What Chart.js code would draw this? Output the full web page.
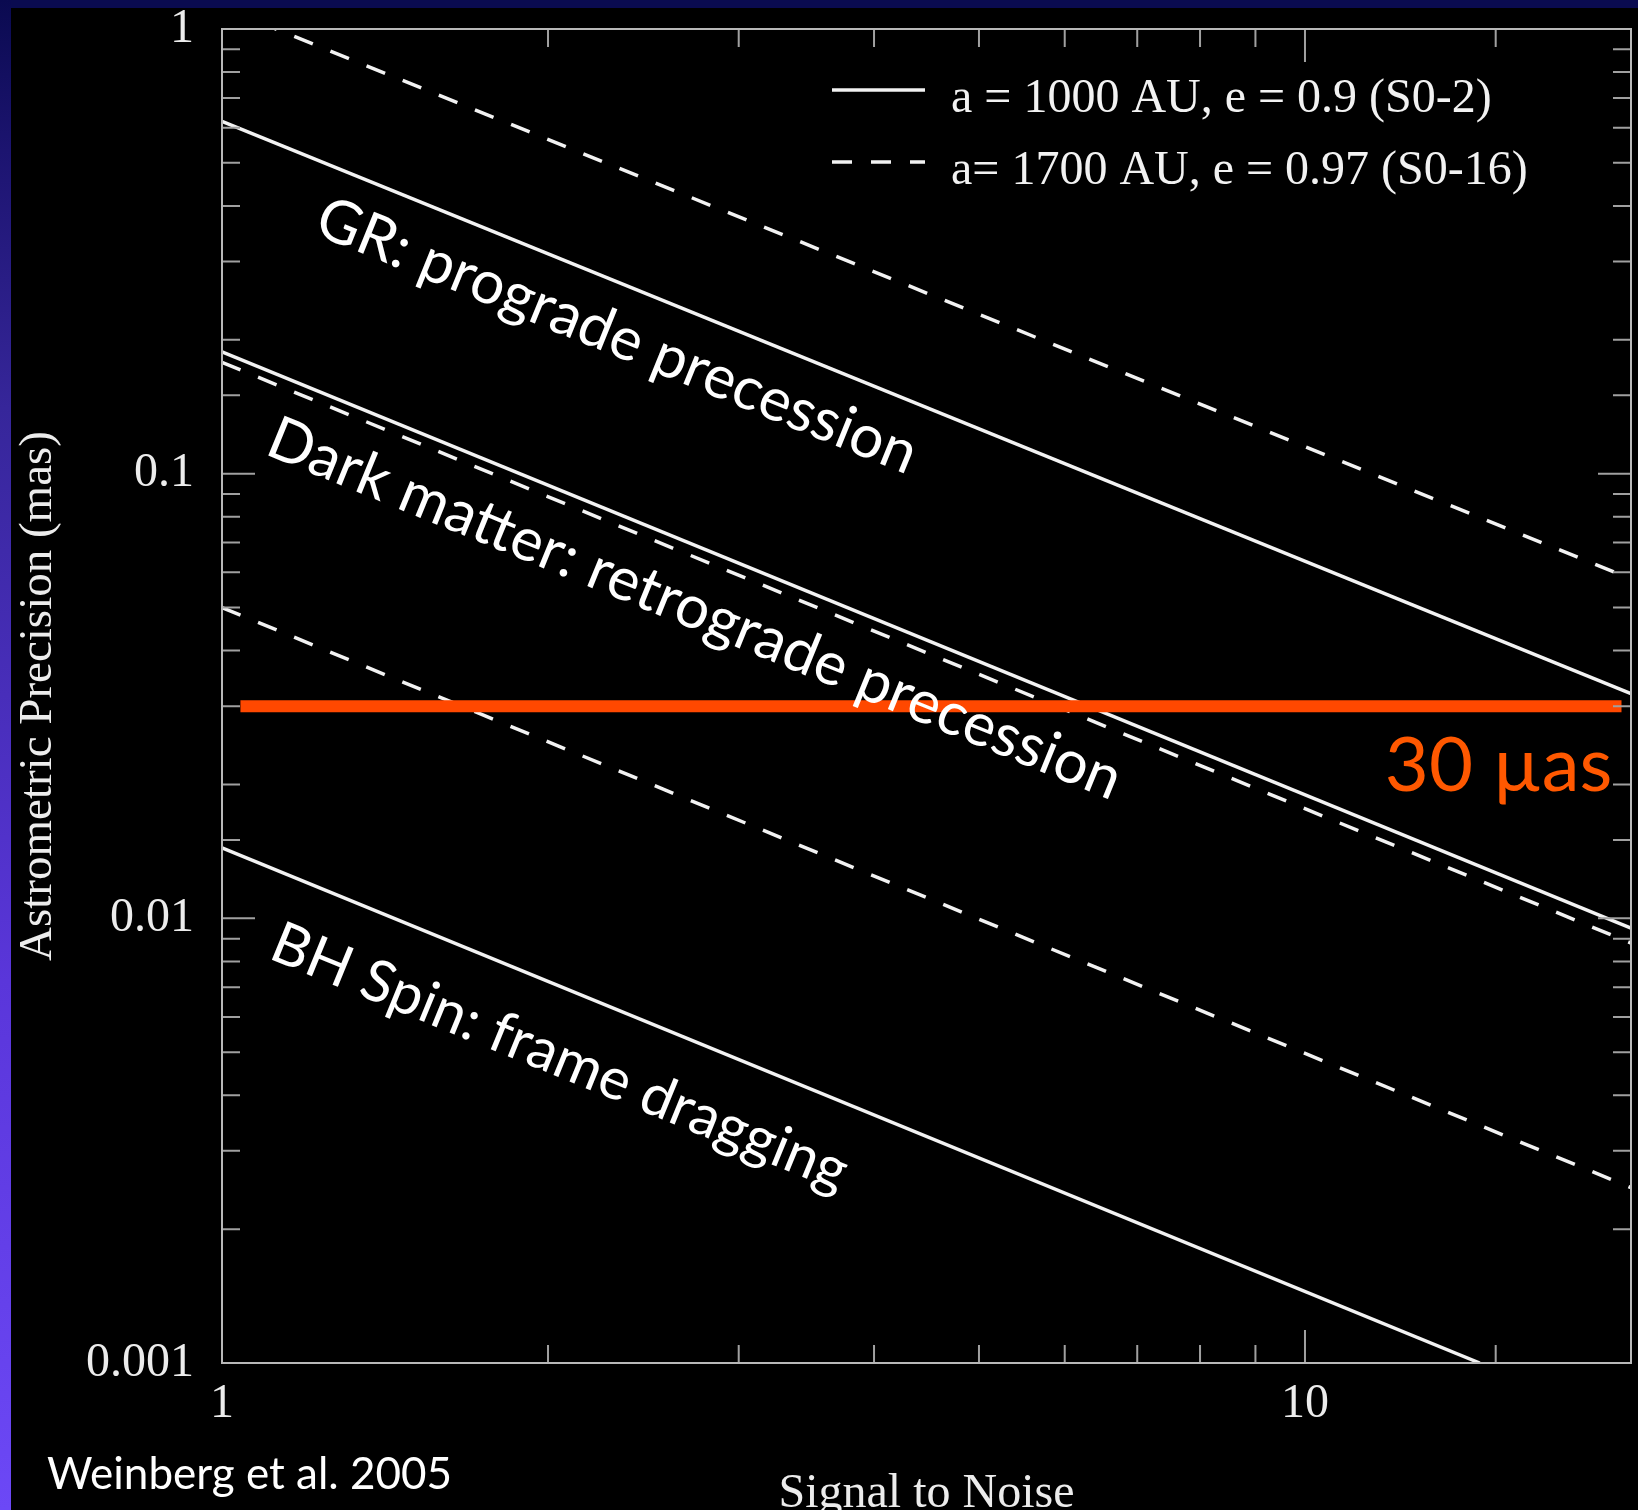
<!DOCTYPE html>
<html>
<head>
<meta charset="utf-8">
<title>Astrometric Precision vs Signal to Noise</title>
<script src="https://cdn.jsdelivr.net/npm/chart.js@4.4.0/dist/chart.umd.min.js"></script>
<style>
  html, body { margin: 0; padding: 0; background: #000; }
  #wrap { position: relative; width: 1638px; height: 1510px; background: #000; overflow: hidden; }
  #topBar { position: absolute; left: 0; top: 0; width: 1638px; height: 8px; background: #0a0b50; }
  #sideBar { position: absolute; left: 0; top: 0; width: 11px; height: 1510px;
    background: linear-gradient(to bottom, #0a0a50 0%, #1c1470 10%, #36269a 27%, #5a36da 65%, #6c48f6 100%); }
  #chart { position: absolute; left: 0; top: 0; }
</style>
</head>
<body>
<div id="wrap">
  <div id="topBar"></div>
  <div id="sideBar"></div>
  <canvas id="chart" width="1638" height="1510"></canvas>
</div>
<script>
// Values (Weinberg et al. 2005)
const snrEnds = [1, 20];
const grS02 = [0.62, 0.032];      // GR prograde, S0-2 (solid)
const grS016 = [1.12, 0.058];     // GR prograde, S0-16 (dashed)
const dmS02 = [0.188, 0.0095];    // dark matter, S0-2
const dmS016 = [0.178, 0.0088];   // dark matter, S0-16
const bhS016 = [0.050, 0.00248];  // frame dragging, S0-16
const bhS02Snr = [1, 14.5];
const bhS02 = [0.0144, 0.001];    // frame dragging, S0-2
const limitSnr = [1.04, 19.6];
const limitMas = [0.03, 0.03];    // 30 micro-arcsec

const xTickValues = [1, 10];
const xTickLabels = ['1', '10'];
const yTickValues = [0.001, 0.01, 0.1, 1];
const yTickLabels = ['0.001', '0.01', '0.1', '1'];

const legendLabels = ['a = 1000 AU, e = 0.9 (S0-2)', 'a= 1700 AU, e = 0.97 (S0-16)'];
const curveLabels = ['GR: prograde precession', 'Dark matter: retrograde precession', 'BH Spin: frame dragging'];
const limitLabel = '30 µas';
const sourceLabel = 'Weinberg et al. 2005';

const white = '#f2f2f2';
const orange = '#ff4800';
const dashes = [20, 19];
const serif = "'Liberation Serif', 'Times New Roman', serif";
const sans = "Lato, 'Open Sans', sans-serif";

function toPoints(xs, ys) {
    return xs.map((x, i) => ({ x: x, y: ys[i] }));
}

function labelFor(value, values, labels) {
    const i = values.findIndex(v => Math.abs(v - value) / v < 1e-6);
    return i >= 0 ? labels[i] : '';
}

function isDecade(v) {
    const l = Math.log10(v);
    return Math.abs(l - Math.round(l)) < 1e-6;
}

function curve(label, xs, ys, dashed) {
    return {
        label: label,
        data: toPoints(xs, ys),
        showLine: true,
        borderColor: white,
        borderWidth: 3.5,
        borderDash: dashed ? dashes : [],
        pointRadius: 0,
        tension: 0,
        order: 1
    };
}

// the axes must not push the plot area around: it is fixed by layout padding
function noPadding(s) {
    s.paddingTop = 0;
    s.paddingBottom = 0;
    s.paddingLeft = 0;
    s.paddingRight = 0;
}

// frame with inward ticks on all four sides
const framePlugin = {
    id: 'frame',
    afterDatasetsDraw(chart) {
        const { ctx, chartArea: a, scales } = chart;
        ctx.save();
        ctx.strokeStyle = '#a0a0a0';
        ctx.lineWidth = 2;
        ctx.beginPath();
        scales.x.ticks.forEach(t => {
            const px = scales.x.getPixelForValue(t.value);
            const len = isDecade(t.value) ? 33 : 18;
            ctx.moveTo(px, a.bottom); ctx.lineTo(px, a.bottom - len);
            ctx.moveTo(px, a.top); ctx.lineTo(px, a.top + len);
        });
        scales.y.ticks.forEach(t => {
            const py = scales.y.getPixelForValue(t.value);
            const len = isDecade(t.value) ? 33 : 18;
            ctx.moveTo(a.left, py); ctx.lineTo(a.left + len, py);
            ctx.moveTo(a.right, py); ctx.lineTo(a.right - len, py);
        });
        ctx.stroke();
        ctx.strokeStyle = '#b8b8b8';
        ctx.strokeRect(a.left, a.top, a.right - a.left, a.bottom - a.top);
        ctx.restore();
    }
};

// legend, curve labels, 30 µas note and source
const notesPlugin = {
    id: 'notes',
    afterDatasetsDraw(chart, args, opts) {
        const { ctx, scales } = chart;
        ctx.save();

        // legend
        opts.legend.forEach((item, i) => {
            const ds = chart.data.datasets[item.dataset];
            const y = opts.legendTop + i * opts.legendStep;
            ctx.strokeStyle = ds.borderColor;
            ctx.lineWidth = ds.borderWidth;
            ctx.setLineDash(ds.borderDash);
            ctx.beginPath();
            ctx.moveTo(opts.legendLeft, y);
            ctx.lineTo(opts.legendLeft + 93, y);
            ctx.stroke();
            ctx.setLineDash([]);
            ctx.fillStyle = white;
            ctx.font = '48px ' + serif;
            ctx.textAlign = 'left';
            ctx.textBaseline = 'alphabetic';
            ctx.fillText(item.text, opts.legendLeft + 119, y + 22);
        });

        // labels along the curves
        opts.curves.forEach(c => {
            const pts = chart.getDatasetMeta(c.dataset).data;
            const p0 = pts[0], p1 = pts[pts.length - 1];
            const angle = Math.atan2(p1.y - p0.y, p1.x - p0.x);
            const x = scales.x.getPixelForValue(c.at[0]);
            const y = scales.y.getPixelForValue(c.at[1]);
            ctx.save();
            ctx.translate(x, y);
            ctx.rotate(angle);
            ctx.fillStyle = '#ffffff';
            ctx.font = c.size + 'px ' + sans;
            ctx.textAlign = 'center';
            ctx.textBaseline = 'alphabetic';
            ctx.fillText(c.text, 0, 0);
            ctx.restore();
        });

        // 30 µas
        ctx.fillStyle = '#ff5800';
        ctx.font = '76px ' + sans;
        ctx.textAlign = 'right';
        ctx.fillText(limitLabel, scales.x.getPixelForValue(limitSnr[1]) - 9,
            scales.y.getPixelForValue(limitMas[1]) + 85);

        // source
        ctx.fillStyle = '#ffffff';
        ctx.font = '44px ' + sans;
        ctx.textAlign = 'left';
        ctx.fillText(sourceLabel, 47, 1489);
        ctx.restore();
    }
};

const ctx = document.getElementById('chart').getContext('2d');
const chart = new Chart(ctx, {
    type: 'scatter',
    data: {
        datasets: [
            {
                label: limitLabel,
                data: toPoints(limitSnr, limitMas),
                showLine: true,
                borderColor: orange,
                borderWidth: 12,
                pointRadius: 0,
                order: 0
            },
            curve(legendLabels[0], snrEnds, grS02, false),
            curve(legendLabels[1], snrEnds, grS016, true),
            curve(legendLabels[0], snrEnds, dmS02, false),
            curve(legendLabels[1], snrEnds, dmS016, true),
            curve(legendLabels[1], snrEnds, bhS016, true),
            curve(legendLabels[0], bhS02Snr, bhS02, false)
        ]
    },
    options: {
        responsive: false,
        devicePixelRatio: 1,
        animation: false,
        layout: { padding: { left: 0, top: 29, right: 7, bottom: 0 } },
        scales: {
            x: {
                type: 'logarithmic',
                min: 1,
                max: 20,
                grid: { display: false },
                border: { display: false },
                ticks: {
                    autoSkip: false,
                    maxRotation: 0,
                    padding: 9,
                    color: '#ececec',
                    font: { family: serif, size: 48, lineHeight: 1 },
                    callback: v => labelFor(v, xTickValues, xTickLabels)
                },
                title: {
                    display: true,
                    text: 'Signal to Noise',
                    color: '#ececec',
                    font: { family: serif, size: 48, lineHeight: 0.6 },
                    padding: { top: 0, bottom: 1 }
                },
                afterFit: s => { s.height = 147; noPadding(s); }
            },
            y: {
                type: 'logarithmic',
                min: 0.001,
                max: 1,
                grid: { display: false },
                border: { display: false },
                ticks: {
                    autoSkip: false,
                    padding: 20,
                    color: '#ececec',
                    font: { family: serif, size: 48, lineHeight: 1 },
                    callback: v => labelFor(v, yTickValues, yTickLabels)
                },
                title: {
                    display: true,
                    text: 'Astrometric Precision (mas)',
                    color: '#ececec',
                    font: { family: serif, size: 47, lineHeight: 1 },
                    padding: { top: 15, bottom: 0 }
                },
                afterFit: s => { s.width = 222; noPadding(s); }
            }
        },
        plugins: {
            legend: { display: false },
            tooltip: { enabled: false },
            notes: {
                legendLeft: 832,
                legendTop: 90,
                legendStep: 72,
                legend: [
                    { dataset: 1, text: legendLabels[0] },
                    { dataset: 2, text: legendLabels[1] }
                ],
                curves: [
                    { dataset: 1, text: curveLabels[0], at: [2.28, 0.1858], size: 60 },
                    { dataset: 3, text: curveLabels[1], at: [2.69, 0.0452], size: 60 },
                    { dataset: 6, text: curveLabels[2], at: [2.02, 0.00445], size: 58 }
                ]
            }
        }
    },
    plugins: [framePlugin, notesPlugin]
});
</script>
</body>
</html>
